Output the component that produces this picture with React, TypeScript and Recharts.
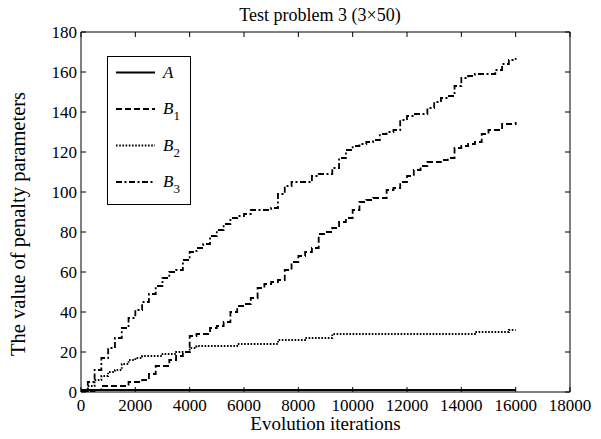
import React from 'react';
import { LineChart, Line, XAxis, YAxis, Legend } from 'recharts';

const FONT = '"Liberation Serif", "Times New Roman", Times, serif';

const iterations = [
  0, 250, 500, 750, 1000, 1250, 1500, 1750, 2000, 2250, 2500, 2750, 3000, 3250, 3500, 3750,
  4000, 4250, 4500, 4750, 5000, 5250, 5500, 5750, 6000, 6250, 6500, 6750, 7000, 7250, 7500, 7750,
  8000, 8250, 8500, 8750, 9000, 9250, 9500, 9750, 10000, 10250, 10500, 10750, 11000, 11250, 11500, 11750,
  12000, 12250, 12500, 12750, 13000, 13250, 13500, 13750, 14000, 14250, 14500, 14750, 15000, 15250, 15500, 15750,
  16000,
];

const seriesA = [
  1, 1, 1, 1, 1, 1, 1, 1, 1, 1, 1, 1, 1, 1, 1, 1,
  1, 1, 1, 1, 1, 1, 1, 1, 1, 1, 1, 1, 1, 1, 1, 1,
  1, 1, 1, 1, 1, 1, 1, 1, 1, 1, 1, 1, 1, 1, 1, 1,
  1, 1, 1, 1, 1, 1, 1, 1, 1, 1, 1, 1, 1, 1, 1, 1,
  1,
];

const seriesB1 = [
  0, 0, 1, 3, 3, 3, 3, 5, 5, 6, 9, 13, 13, 16, 18, 20,
  28, 29, 29, 32, 33, 35, 40, 43, 44, 47, 52, 54, 55, 56, 61, 65,
  68, 70, 72, 79, 80, 82, 85, 87, 91, 95, 96, 97, 97, 101, 102, 105,
  108, 111, 113, 115, 115, 116, 117, 122, 123, 124, 125, 129, 131, 131, 134, 134,
  135,
];

const seriesB2 = [
  0, 3, 6, 8, 10, 11, 14, 16, 17, 18, 18, 18, 19, 19, 20, 20,
  22, 23, 23, 23, 23, 23, 23, 24, 24, 24, 24, 24, 24, 26, 26, 26,
  26, 27, 27, 27, 27, 29, 29, 29, 29, 29, 29, 29, 29, 29, 29, 29,
  29, 29, 29, 29, 29, 29, 29, 29, 29, 29, 30, 30, 30, 30, 30, 31,
  31,
];

const seriesB3 = [
  0, 5, 11, 17, 22, 27, 32, 37, 41, 45, 49, 53, 57, 60, 61, 66,
  70, 72, 74, 78, 81, 84, 87, 88, 89, 91, 91, 91, 92, 99, 103, 105,
  105, 105, 108, 109, 109, 112, 117, 121, 123, 124, 125, 126, 129, 130, 131, 136,
  138, 139, 139, 142, 145, 147, 148, 153, 157, 158, 159, 159, 159, 161, 164, 166,
  167,
];

const xTicks = [0, 2000, 4000, 6000, 8000, 10000, 12000, 14000, 16000, 18000];
const yTicks = [0, 20, 40, 60, 80, 100, 120, 140, 160, 180];

const seriesDefs = [
  { key: 'A', base: 'A', sub: '', dash: undefined as string | undefined, width: 2.2 },
  { key: 'B1', base: 'B', sub: '1', dash: '6 3', width: 1.8 },
  { key: 'B2', base: 'B', sub: '2', dash: '1.6 1.6', width: 1.8 },
  { key: 'B3', base: 'B', sub: '3', dash: '6 2.5 2 2.5', width: 1.8 },
];

const data = iterations.map((it, i) => ({
  it,
  A: seriesA[i],
  B1: seriesB1[i],
  B2: seriesB2[i],
  B3: seriesB3[i],
}));

const TICK_FONT = 17;

const BottomTick = (props: any) => {
  const { x, y, payload } = props;
  const axisY = y - 6;
  return (
    <g>
      <line x1={x} x2={x} y1={axisY} y2={axisY - 5} stroke="#000" strokeWidth={1} />
      <text x={x} y={y} dy="0.74em" textAnchor="middle" fontFamily={FONT} fontSize={TICK_FONT} fill="#000">
        {payload.value}
      </text>
    </g>
  );
};

const LeftTick = (props: any) => {
  const { x, y, payload } = props;
  const axisX = x + 4;
  return (
    <g>
      <line x1={axisX} x2={axisX + 5} y1={y} y2={y} stroke="#000" strokeWidth={1} />
      <text x={x} y={y} dy="0.35em" textAnchor="end" fontFamily={FONT} fontSize={TICK_FONT} fill="#000">
        {payload.value}
      </text>
    </g>
  );
};

const TopTick = (props: any) => {
  const { x, y } = props;
  return <line x1={x} x2={x} y1={y} y2={y + 5} stroke="#000" strokeWidth={1} />;
};

const RightTick = (props: any) => {
  const { x, y } = props;
  return <line x1={x} x2={x - 5} y1={y} y2={y} stroke="#000" strokeWidth={1} />;
};

const LegendBox = () => (
  <svg width={84} height={149} style={{ display: 'block' }}>
    <rect x={0.5} y={0.5} width={83} height={148} fill="#fff" stroke="#000" strokeWidth={1} />
    {seriesDefs.map((s, i) => {
      const cy = 16.5 + i * 36.5;
      return (
        <g key={s.key}>
          <line x1={9} x2={48} y1={cy} y2={cy} stroke="#000" strokeWidth={s.width} strokeDasharray={s.dash} />
          <text x={56} y={cy + 5} fontFamily={FONT} fontSize={17} fill="#000">
            <tspan fontStyle="italic">{s.base}</tspan>
            {s.sub ? (
              <tspan dy={6} fontSize={13}>
                {s.sub}
              </tspan>
            ) : null}
          </text>
        </g>
      );
    })}
  </svg>
);

const YLabel = (props: any) => {
  const vb = props.viewBox || {};
  const cx = 18;
  const cy = vb.y + vb.height / 2 + 12;
  return (
    <text
      x={cx}
      y={cy}
      transform={`rotate(-90, ${cx}, ${cy})`}
      textAnchor="middle"
      dominantBaseline="central"
      fontFamily={FONT}
      fontSize={20.5}
      fill="#000"
    >
      The value of penalty parameters
    </text>
  );
};

const XLabel = (props: any) => {
  const vb = props.viewBox || {};
  const cx = vb.x + vb.width / 2;
  return (
    <text x={cx} y={430} textAnchor="middle" fontFamily={FONT} fontSize={19} fill="#000">
      Evolution iterations
    </text>
  );
};

export default function App() {
  return (
    <div style={{ position: 'absolute', left: 0, top: 0, width: 601, height: 439, background: '#fff' }}>
      <LineChart
        width={601}
        height={439}
        data={data}
        margin={{ top: 31, right: 30, bottom: 0, left: 0 }}
        style={{ fontFamily: FONT }}
      >
        <text x={320} y={21} textAnchor="middle" fontFamily={FONT} fontSize={18} fill="#000">
          Test problem 3 (3×50)
        </text>
        <XAxis
          dataKey="it"
          type="number"
          domain={[0, 18000]}
          ticks={xTicks}
          height={47}
          tickSize={0}
          tickMargin={6}
          tick={<BottomTick />}
          axisLine={{ stroke: '#000', strokeWidth: 1 }}
          tickLine={false}
          interval={0}
          allowDataOverflow
          label={<XLabel />}
        />
        <XAxis
          xAxisId="top"
          orientation="top"
          dataKey="it"
          type="number"
          domain={[0, 18000]}
          ticks={xTicks}
          height={1}
          tickSize={0}
          tickMargin={0}
          tick={<TopTick />}
          axisLine={{ stroke: '#000', strokeWidth: 1 }}
          tickLine={false}
          interval={0}
          allowDataOverflow
        />
        <YAxis
          type="number"
          domain={[0, 180]}
          ticks={yTicks}
          width={81}
          tickSize={0}
          tickMargin={4}
          tick={<LeftTick />}
          axisLine={{ stroke: '#000', strokeWidth: 1 }}
          tickLine={false}
          interval={0}
          allowDataOverflow
          label={<YLabel />}
        />
        <YAxis
          yAxisId="right"
          orientation="right"
          type="number"
          domain={[0, 180]}
          ticks={yTicks}
          width={1}
          tickSize={0}
          tickMargin={0}
          tick={<RightTick />}
          axisLine={{ stroke: '#000', strokeWidth: 1 }}
          tickLine={false}
          interval={0}
          allowDataOverflow
        />
        <Legend
          layout="horizontal"
          verticalAlign="middle"
          align="center"
          content={<LegendBox />}
          wrapperStyle={{ position: 'absolute', left: 107, top: 56, width: 84, height: 149 }}
        />
        {seriesDefs.map((s) => (
          <Line
            key={s.key}
            dataKey={s.key}
            type="stepAfter"
            stroke="#000"
            strokeWidth={s.width}
            strokeDasharray={s.dash}
            dot={false}
            activeDot={false}
            isAnimationActive={false}
          />
        ))}
      </LineChart>
    </div>
  );
}
